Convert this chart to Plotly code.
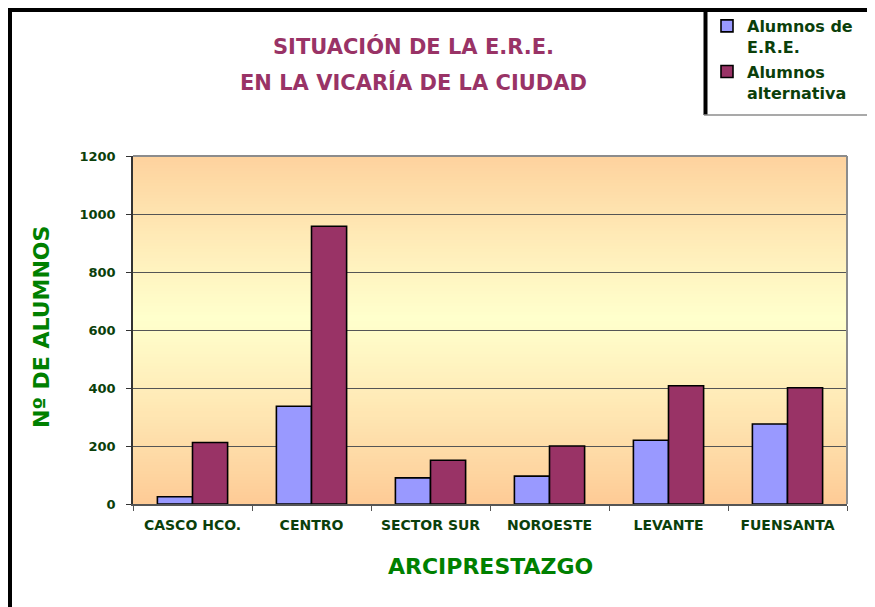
import plotly.graph_objects as go

# === Data ===
arciprestazgos = ['CASCO HCO.', 'CENTRO', 'SECTOR SUR', 'NOROESTE', 'LEVANTE', 'FUENSANTA']
alumnos_ere = [25, 337, 90, 96, 220, 276]
alumnos_alternativa = [212, 958, 151, 200, 408, 401]
series_names = ['Alumnos de<br>E.R.E.', 'Alumnos<br>alternativa']
y_ticks = [0, 200, 400, 600, 800, 1000, 1200]

W, H = 875, 607
OFF = 8  # page body margin
L, R, T, B = 133 - OFF, 847 - OFF, 156 - OFF, 504 - OFF  # plot area in figure pixels

# screen pixel -> paper coords
def px(x):
    return (x - OFF - L) / (R - L)

def py(y):
    return (B - (y - OFF)) / (B - T)

dark_green = '#0b3f0b'
font_name = 'DejaVu Sans'

fig = go.Figure()
fig.add_trace(go.Bar(
    x=arciprestazgos, y=alumnos_ere, name=series_names[0], legendgroup='a',
    marker=dict(color='#9999ff', line=dict(color='black', width=1.6)),
))
fig.add_trace(go.Bar(
    x=arciprestazgos, y=alumnos_alternativa, name=series_names[1], legendgroup='b',
    marker=dict(color='#993366', line=dict(color='black', width=1.6)),
))

# gradient background of the plot area (peach edges, pale yellow centre)
def mix(c1, c2, t):
    return 'rgb(%d,%d,%d)' % tuple(round(a + (b - a) * t) for a, b in zip(c1, c2))

edge = (254, 203, 150)
centre = (255, 255, 204)
shapes = []
n = 116
for i in range(n):
    y0 = 1200 * i / n
    y1 = 1200 * (i + 1) / n
    t = abs((y0 + y1) / 2 - 640) / 640
    shapes.append(dict(type='rect', xref='paper', yref='y', x0=0, x1=1, y0=y0, y1=y1,
                       fillcolor=mix(centre, edge, min(t, 1) ** 1.1), line=dict(width=0), layer='below'))

# plot area border (top/right grey)
shapes.append(dict(type='line', xref='paper', yref='paper', x0=0, x1=1, y0=1, y1=1,
                   line=dict(color='#8c8c8c', width=2)))
shapes.append(dict(type='line', xref='paper', yref='paper', x0=1, x1=1, y0=0, y1=1,
                   line=dict(color='#8c8c8c', width=2)))

# outer chart frame (top and left visible)
shapes.append(dict(type='line', xref='paper', yref='paper', x0=px(7), x1=px(890), y0=py(9.5), y1=py(9.5),
                   line=dict(color='black', width=5)))
shapes.append(dict(type='line', xref='paper', yref='paper', x0=px(9.5), x1=px(9.5), y0=py(7), y1=py(620),
                   line=dict(color='black', width=5)))

# legend box
shapes.append(dict(type='line', xref='paper', yref='paper', x0=px(705.5), x1=px(705.5), y0=py(7), y1=py(115),
                   line=dict(color='black', width=4)))
shapes.append(dict(type='line', xref='paper', yref='paper', x0=px(704), x1=px(890), y0=py(115), y1=py(115),
                   line=dict(color='#8c8c8c', width=1.5)))

title_font = dict(family=font_name, size=21, color='#993366', weight='bold')
axis_title_font = dict(family=font_name, size=22, color='#008000', weight='bold')
annotations = [
    dict(text='SITUACIÓN DE LA E.R.E.', xref='paper', yref='paper', x=px(413), y=py(47),
         xanchor='center', yanchor='middle', showarrow=False, font=title_font),
    dict(text='EN LA VICARÍA DE LA CIUDAD', xref='paper', yref='paper', x=px(413), y=py(82),
         xanchor='center', yanchor='middle', showarrow=False, font=title_font),
    dict(text='ARCIPRESTAZGO', xref='paper', yref='paper', x=px(490), y=py(566),
         xanchor='center', yanchor='middle', showarrow=False, font=axis_title_font),
    dict(text='Nº DE ALUMNOS', xref='paper', yref='paper', x=px(41), y=py(327),
         xanchor='center', yanchor='middle', showarrow=False, textangle=-90,
         font=axis_title_font),
]

fig.update_layout(
    width=W, height=H,
    margin=dict(l=L, r=W - R, t=T, b=H - B, pad=0, autoexpand=False),
    paper_bgcolor='white',
    plot_bgcolor='rgba(0,0,0,0)',
    barmode='group',
    bargap=0.41,
    bargroupgap=0,
    shapes=shapes,
    annotations=annotations,
    showlegend=True,
    legend=dict(
        xref='container', yref='container',
        x=(707 - OFF) / W, y=1 - (9 - OFF) / H, xanchor='left', yanchor='top',
        bgcolor='rgba(0,0,0,0)', borderwidth=0, valign='top',
        traceorder='grouped', tracegroupgap=1,
        font=dict(family=font_name, size=16, color=dark_green, weight='bold'),
    ),
    xaxis=dict(
        showgrid=False, showline=True, linecolor='#555555', linewidth=1.5,
        ticks='outside', ticklen=5, tickcolor='#555555', tickson='boundaries',
        tickfont=dict(family=font_name, size=14, color=dark_green, weight='bold'),
        ticklabelstandoff=7,
    ),
    yaxis=dict(
        range=[0, 1200], tickvals=y_ticks, showgrid=True, gridcolor='#555555', gridwidth=1,
        zeroline=False, showline=True, linecolor='#333333', linewidth=1.5,
        ticks='outside', ticklen=5, tickcolor='#333333',
        tickfont=dict(family=font_name, size=13, color=dark_green, weight='bold'),
        ticklabelstandoff=8,
    ),
)

fig.write_html("out.html")
